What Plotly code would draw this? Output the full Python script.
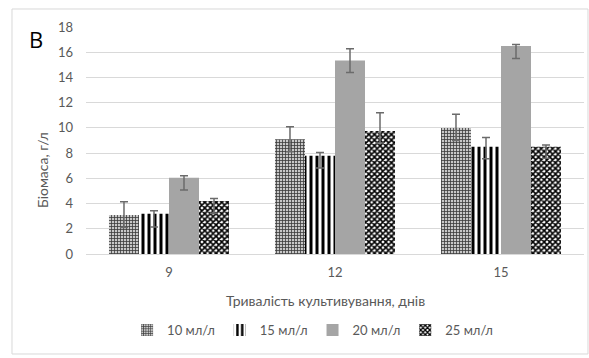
import plotly.graph_objects as go

days = ["9", "12", "15"]
series_names = ["10 мл/л", "15 мл/л", "20 мл/л", "25 мл/л"]
v10 = [3.1, 9.1, 10.0]
v15 = [3.2, 7.8, 8.5]
v20 = [6.05, 15.35, 16.5]
v25 = [4.2, 9.75, 8.5]
e10_plus = [1.05, 1.0, 1.08]
e10_minus = [1.0, 1.0, 1.0]
e15_plus = [0.22, 0.25, 0.74]
e15_minus = [1.05, 0.98, 0.95]
e20_plus = [0.16, 0.93, 0.12]
e20_minus = [0.98, 0.95, 1.0]
e25_plus = [0.2, 1.45, 0.14]
e25_minus = [0.97, 0.95, 0.9]
y_ticks = [0, 2, 4, 6, 8, 10, 12, 14, 16, 18]

FONT = "Lato"
GRAY = "#595959"

values = [v10, v15, v20, v25]
plus = [e10_plus, e15_plus, e20_plus, e25_plus]
minus = [e10_minus, e15_minus, e20_minus, e25_minus]
patterns = [
    dict(shape="+", fgcolor="#3a3a3a", bgcolor="#c8c8c8", size=3, solidity=0.45, fillmode="replace"),
    dict(shape="|", fgcolor="#000000", bgcolor="#ffffff", size=6, solidity=0.5, fillmode="replace"),
    dict(shape=""),
    dict(shape="x", fgcolor="#000000", bgcolor="#ffffff", size=4, solidity=0.65, fillmode="replace"),
]
colors = ["#ffffff", "#ffffff", "#a5a5a5", "#ffffff"]

fig = go.Figure()
for name, v, p, m, pat, c in zip(series_names, values, plus, minus, patterns, colors):
    fig.add_trace(go.Bar(
        x=days, y=v, name=name,
        marker=dict(color=c, pattern=pat, line=dict(width=0)),
        error_y=dict(type="data", symmetric=False, array=p, arrayminus=m,
                     color="#6b6b6b", thickness=1.5, width=4),
    ))

fig.update_layout(
    width=589, height=358,
    margin=dict(l=86, r=5, t=27, b=104),
    paper_bgcolor="white", plot_bgcolor="white",
    barmode="group", bargap=0.277, bargroupgap=0,
    font=dict(family=FONT, color=GRAY, size=13),
    showlegend=True,
    legend=dict(orientation="h", x=0.455, xanchor="center", y=-0.335, yanchor="middle",
                font=dict(family=FONT, size=13, color=GRAY), itemwidth=30,
                traceorder="normal"),
    xaxis=dict(showgrid=False, showline=True, linecolor="#d9d9d9", linewidth=1,
               ticks="", tickfont=dict(size=13, color=GRAY), ticklabelstandoff=6),
    yaxis=dict(range=[0, 18], tickvals=y_ticks, showgrid=True, gridcolor="#d9d9d9",
               gridwidth=1, zeroline=False, showline=False, ticks="",
               tickfont=dict(size=13, color=GRAY), ticklabelstandoff=12),
)

fig.add_shape(type="rect", xref="paper", yref="paper",
              x0=-0.1486, x1=1.008, y0=-0.4405, y1=1.0793,
              line=dict(color="#d9d9d9", width=1), layer="below")

fig.add_annotation(text="Біомаса, г/л", xref="paper", yref="paper", x=-0.0884, y=0.37,
                   textangle=-90, showarrow=False, xanchor="center", yanchor="middle",
                   font=dict(family=FONT, size=14, color=GRAY))
fig.add_annotation(text="Тривалість культивування, днів", xref="paper", yref="paper",
                   x=0.48, y=-0.2057, showarrow=False, xanchor="center", yanchor="middle",
                   font=dict(family=FONT, size=14, color=GRAY))
fig.add_annotation(text="В", xref="paper", yref="paper", x=-0.1004, y=0.947,
                   showarrow=False, xanchor="center", yanchor="middle",
                   font=dict(family="Open Sans", size=22, color="#000000"))

fig.write_html("out.html")
